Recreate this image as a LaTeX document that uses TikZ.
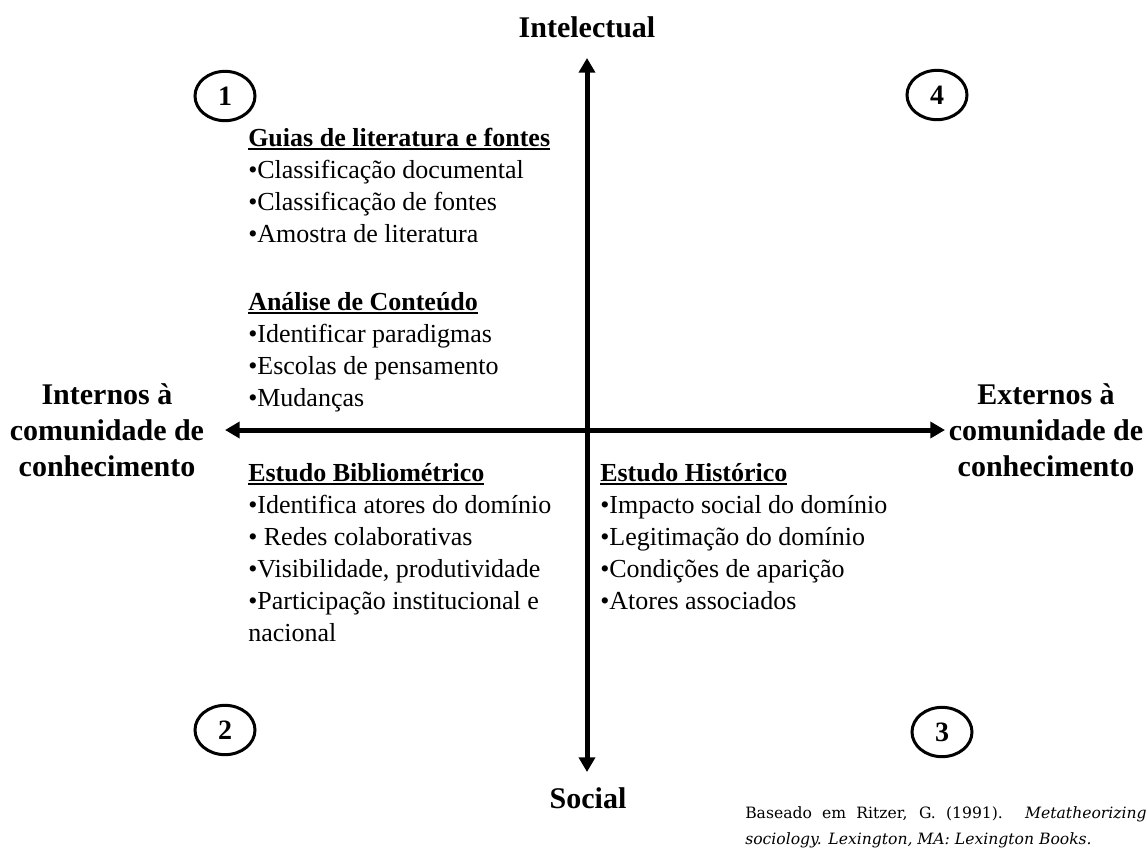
\documentclass[tikz,border=0pt]{standalone}
\usepackage{fontspec}
\setmainfont{Liberation Serif}
\newfontfamily\citefont{DejaVu Serif}
\usetikzlibrary{arrows.meta,shapes.geometric}
% bold heading with a firm underline just under the baseline
\newcommand\uhead[1]{\setbox0=\hbox{\bfseries #1}\rlap{\rule[-3pt]{\wd0}{1.3pt}}\box0}
\begin{document}
\begin{tikzpicture}[x=0.75pt,y=-0.75pt,
  axis/.style={line width=3.75pt,{Triangle[length=11pt,width=12pt]}-{Triangle[length=11pt,width=12pt]}},
  poletitle/.style={font=\fontsize{22.5}{27}\selectfont\bfseries,inner sep=0pt},
  sidelabel/.style={poletitle,align=center},
  quadnum/.style={ellipse,draw,line width=2.25pt,minimum width=45pt,minimum height=37pt,inner sep=0pt,font=\fontsize{21}{24}\selectfont\bfseries},
  block/.style={anchor=base west,inner sep=0pt,font=\fontsize{19.5}{24}\selectfont},
  cite/.style={anchor=base west,inner sep=0pt,font=\citefont\fontsize{11.7}{20}\selectfont}]
\useasboundingbox[fill=white] (0,0) rectangle (1147,854);

% axes
\coordinate (vtop) at (587,58);
\coordinate (vbot) at (587,772);
\coordinate (hleft) at (225,430);
\coordinate (hright) at (945,430);
\draw[axis] (vbot) -- (vtop);
\draw[axis] (hleft) -- (hright);

% pole labels
\node[poletitle,anchor=base] (intel) at (587,37) {Intelectual};
\node[poletitle,anchor=base] (social) at (588,808) {Social};
\node[sidelabel] (intern) at (107,430) {Internos à\\comunidade de\\conhecimento};
\node[sidelabel] (extern) at (1046,430) {Externos à\\comunidade de\\conhecimento};

% quadrant numbers
\node[quadnum] (q1) at (225,96) {1};
\node[quadnum] (q2) at (225,730) {2};
\node[quadnum] (q3) at (942,732) {3};
\node[quadnum] (q4) at (937,95) {4};

% quadrant contents
\node[block] (guias) at (248,146) {\vtop{%
  \hbox{\uhead{Guias de literatura e fontes}}
  \hbox{•Classificação documental}
  \hbox{•Classificação de fontes}
  \hbox{•Amostra de literatura}}};
\node[block] (analise) at (248,310) {\vtop{%
  \hbox{\uhead{Análise de Conteúdo}}
  \hbox{•Identificar paradigmas}
  \hbox{•Escolas de pensamento}
  \hbox{•Mudanças}}};
\node[block] (biblio) at (248,481) {\vtop{%
  \hbox{\uhead{Estudo Bibliométrico}}
  \hbox{•Identifica atores do domínio}
  \hbox{• Redes colaborativas}
  \hbox{•Visibilidade, produtividade}
  \hbox{•Participação institucional e}
  \hbox{nacional}}};
\node[block] (hist) at (600,481) {\vtop{%
  \hbox{\uhead{Estudo Histórico}}
  \hbox{•Impacto social do domínio}
  \hbox{•Legitimação do domínio}
  \hbox{•Condições de aparição}
  \hbox{•Atores associados}}};

% source note
\node[cite] (source) at (745,818) {\vtop{%
  \hbox to 301pt{Baseado em Ritzer, G. (1991). \textit{Metatheorizing}}
  \hbox{\textit{sociology. Lexington, MA: Lexington Books.}}}};
\end{tikzpicture}
\end{document}
